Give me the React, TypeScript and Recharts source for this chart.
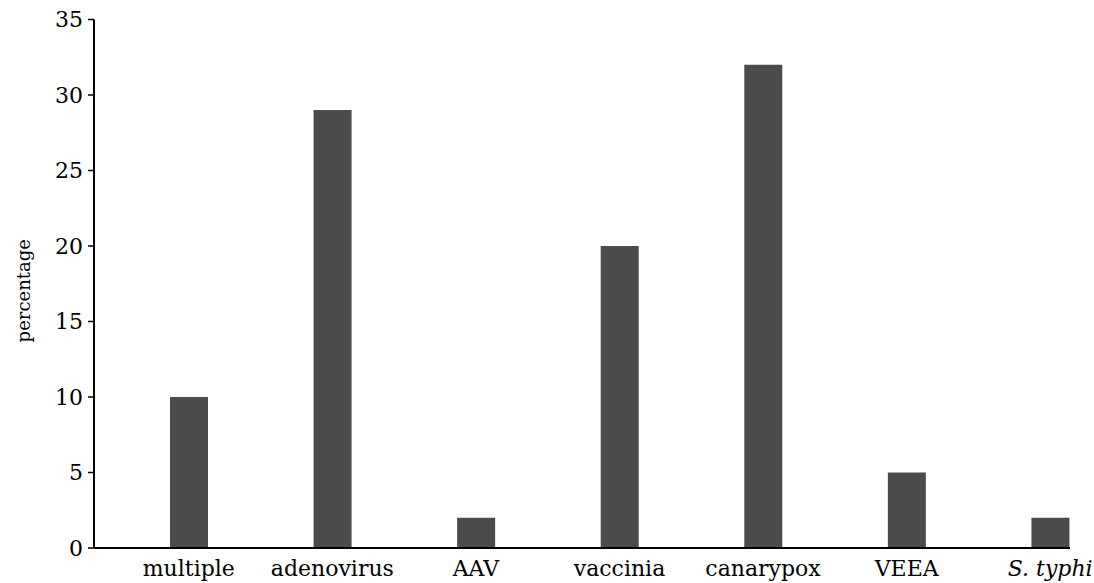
import { BarChart, Bar, XAxis, YAxis } from 'recharts';

const categories = ['multiple', 'adenovirus', 'AAV', 'vaccinia', 'canarypox', 'VEEA', 'S. typhi'];
const percentages = [10, 29, 2, 20, 32, 5, 2];
const yTicks = [0, 5, 10, 15, 20, 25, 30, 35];
const italicLabels = ['S. typhi'];

const data = categories.map((name, i) => ({ name, value: percentages[i] }));

const FONT = '"DejaVu Serif", "Liberation Serif", serif';

function CategoryTick(props: any) {
  const { x, y, payload } = props;
  const italic = italicLabels.includes(payload.value);
  return (
    <text
      x={x}
      y={y}
      dy={28}
      textAnchor="middle"
      fill="#000"
      fontSize={22}
      fontFamily={FONT}
      fontStyle={italic ? 'italic' : 'normal'}
    >
      {payload.value}
    </text>
  );
}

function YLabel(props: any) {
  const { viewBox } = props;
  const cx = viewBox.x + 23;
  const cy = viewBox.y + viewBox.height / 2 + 7;
  return (
    <text
      x={cx}
      y={cy}
      transform={`rotate(-90, ${cx}, ${cy})`}
      textAnchor="middle"
      dominantBaseline="central"
      fontSize={18}
      fontFamily={FONT}
      fill="#000"
    >
      percentage
    </text>
  );
}

export default function App() {
  return (
    <div style={{ position: 'absolute', left: 0, top: 0, background: '#fff' }}>
      <BarChart
        width={1094}
        height={583}
        data={data}
        margin={{ top: 19.5, right: 24, bottom: 0, left: 0 }}
      >
        <XAxis
          dataKey="name"
          height={35}
          padding={{ left: 23, right: -52 }}
          tickLine={false}
          tickSize={0}
          tickMargin={0}
          axisLine={{ stroke: '#000', strokeWidth: 2 }}
          tick={<CategoryTick />}
          interval={0}
        />
        <YAxis
          width={94}
          domain={[0, 35]}
          ticks={yTicks}
          tickSize={6}
          tickMargin={5}
          axisLine={{ stroke: '#000', strokeWidth: 2 }}
          tickLine={{ stroke: '#000', strokeWidth: 1.5 }}
          tick={{ fill: '#000', fontSize: 22, fontFamily: FONT }}
          label={<YLabel />}
        />
        <Bar dataKey="value" fill="#4b4b4b" barSize={38} isAnimationActive={false} />
      </BarChart>
    </div>
  );
}
